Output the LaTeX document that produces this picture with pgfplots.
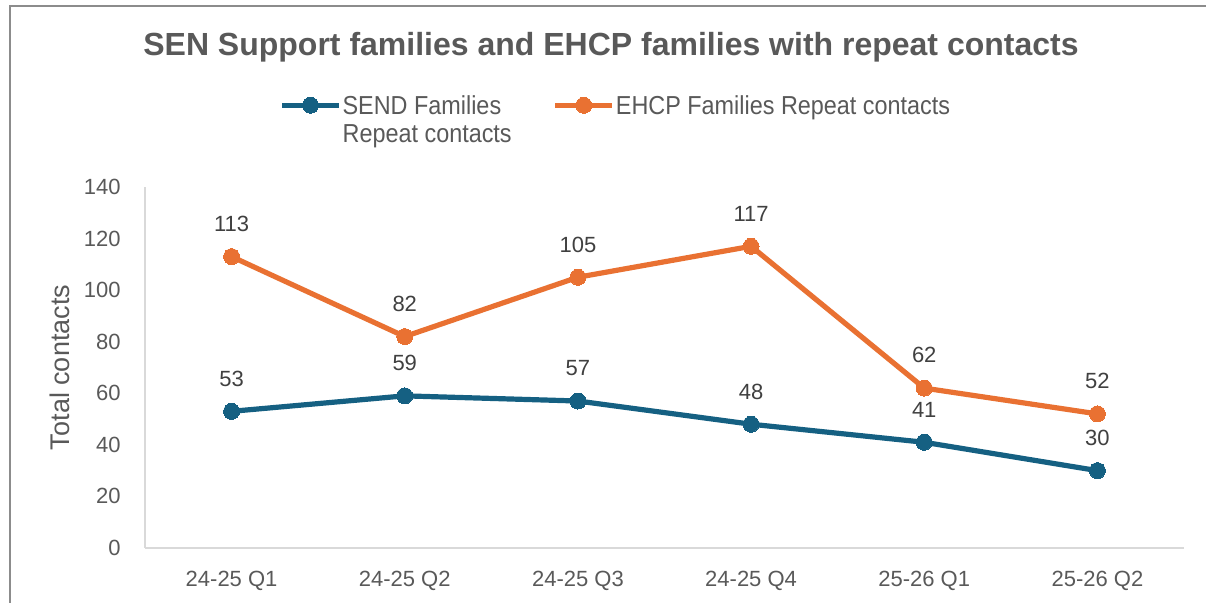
\documentclass[border=0pt]{standalone}
\usepackage{pgfplots}
\pgfplotsset{compat=1.18}
\usepackage{fontspec}
\setmainfont{Liberation Sans}
\newfontfamily\legfont[FakeStretch=0.9]{Liberation Sans}
\definecolor{sendblue}{HTML}{156082}
\definecolor{ehcporange}{HTML}{E97132}
\definecolor{txtgray}{HTML}{595959}
\definecolor{lblgray}{HTML}{404040}
\definecolor{axgray}{HTML}{D9D9D9}
\definecolor{framegray}{HTML}{8C8C8C}
\begin{document}
\begin{tikzpicture}
\useasboundingbox (0,0) rectangle (603pt,301.5pt);
\draw[framegray, line width=0.8pt] (4.85pt,-2pt) -- (4.85pt,298.35pt) -- (610pt,298.35pt);
\begin{axis}[
  at={(72.5pt,27.5pt)}, anchor=south west,
  scale only axis, width=519.5pt, height=180.5pt,
  xmin=-0.5, xmax=5.5, ymin=0, ymax=140,
  xtick={0,...,5},
  xticklabels={24-25 Q1,24-25 Q2,24-25 Q3,24-25 Q4,25-26 Q1,25-26 Q2},
  ytick={0,20,...,140},
  axis lines*=left,
  axis line style={axgray, line width=0.6pt},
  major tick length=0pt,
  /pgf/number format/assume math mode=true,
  tick label style={font=\fontsize{11}{13}\selectfont, text=txtgray},
  yticklabel style={anchor=east, inner sep=0pt, xshift=-12pt},
  xticklabel style={anchor=north, inner sep=0pt, yshift=-11.5pt},
  ylabel={Total contacts},
  every axis y label/.style={at={(axis description cs:-0.0818,0.5)}, rotate=90, anchor=center, font=\fontsize{13.5}{15}\selectfont, text=txtgray},
  title={SEN Support families and EHCP families with repeat contacts},
  every axis title/.style={at={(axis description cs:0.4485,1.388)}, anchor=center, font=\bfseries\fontsize{16}{19}\selectfont, text=txtgray},
  nodes near coords,
  every node near coord/.style={anchor=south, inner sep=0pt, yshift=12.5pt, font=\fontsize{11}{13}\selectfont, text=lblgray},
  legend columns=2,
  legend style={at={(axis description cs:0.129,1.263)}, anchor=north west, draw=none, fill=none, inner sep=0pt,
    font=\legfont\fontsize{13}{15}\selectfont, text=txtgray,
    cells={anchor=base west},
    nodes={inner sep=0.5pt},
    /tikz/every even column/.append style={column sep=20pt}},
  legend image code/.code={\draw[mark repeat=2, mark phase=2, #1] plot coordinates {(0pt,4.6pt) (14.25pt,4.6pt) (28.5pt,4.6pt)};},
]
\addplot[sendblue, line width=2.6pt, mark=*, mark size=4pt, mark options={fill=sendblue, draw=sendblue, line width=0pt}]
  coordinates {(0,53) (1,59) (2,57) (3,48) (4,41) (5,30)};
\addlegendentry{\begin{tabular}[t]{@{}l@{}}SEND Families\\[-1pt]Repeat contacts\end{tabular}}
\addplot[ehcporange, line width=2.6pt, mark=*, mark size=4pt, mark options={fill=ehcporange, draw=ehcporange, line width=0pt}]
  coordinates {(0,113) (1,82) (2,105) (3,117) (4,62) (5,52)};
\addlegendentry{EHCP Families Repeat contacts}
\end{axis}
\end{tikzpicture}
\end{document}
